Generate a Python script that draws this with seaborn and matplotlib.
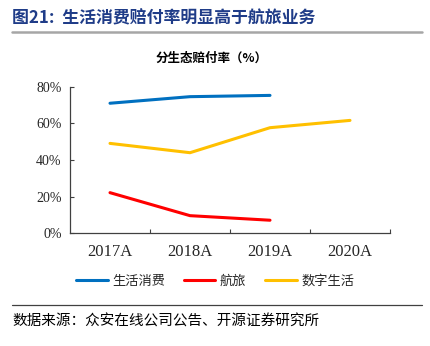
import matplotlib
matplotlib.use("Agg")
import matplotlib.pyplot as plt
import seaborn as sns
import pandas as pd
from matplotlib.lines import Line2D
from matplotlib.ticker import FuncFormatter, FixedLocator

years = ["2017A", "2018A", "2019A", "2020A"]
series_names = ["生活消费", "航旅", "数字生活"]
life = [71.1, 74.7, 75.4, None]
travel = [22.1, 9.5, 7.0, None]
digital = [49.1, 44.0, 57.7, 61.7]
colors = ["#0070C0", "#FF0000", "#FFC000"]
yticks = [0, 20, 40, 60, 80]

sns.set_theme(style="white")
plt.rcParams['font.family'] = ['Noto Sans CJK SC', 'DejaVu Sans']

rows = []
for name, vals in zip(series_names, [life, travel, digital]):
    for y, v in zip(years, vals):
        if v is not None:
            rows.append({"year": y, "series": name, "value": v})
df = pd.DataFrame(rows)
df["x"] = df["year"].map({y: i for i, y in enumerate(years)})

fig = plt.figure(figsize=(4.31, 3.46), dpi=100)
ax = fig.add_axes([70/431, 1-233/346, 320/431, 146/346])

sns.lineplot(data=df, x="x", y="value", hue="series", hue_order=series_names,
             palette=colors, linewidth=2.2, ax=ax, legend=False)

ax.set_xlim(-0.5, 3.5)
ax.set_ylim(0, 80)
ax.set_xlabel("")
ax.set_ylabel("")
ax.set_yticks(yticks)
ax.yaxis.set_major_formatter(FuncFormatter(lambda v, p: f"{int(v)}%"))
ax.set_xticks(range(len(years)))
ax.set_xticklabels(years)
ax.xaxis.set_minor_locator(FixedLocator([0.5, 1.5, 2.5, 3.5]))
for lab in ax.get_yticklabels():
    lab.set_fontfamily("Liberation Serif")
    lab.set_fontsize(10)
for lab in ax.get_xticklabels():
    lab.set_fontfamily("Liberation Serif")
    lab.set_fontsize(12)
ax.tick_params(axis="y", which="major", direction="in", length=3, width=0.8, color="#404040", pad=6, left=True)
ax.tick_params(axis="x", which="major", length=0, pad=8, bottom=True)
ax.tick_params(axis="x", which="minor", direction="in", length=3, width=0.8, color="#404040", bottom=True)
for s in ["top", "right"]:
    ax.spines[s].set_visible(False)
for s in ["left", "bottom"]:
    ax.spines[s].set_color("#404040")
    ax.spines[s].set_linewidth(0.9)
ax.grid(False)

# Title
fig.text(12/431, 1-18/346, "图21:  生活消费赔付率明显高于航旅业务", fontsize=12.2, fontweight="bold",
         color="#1F3C88", va="center", ha="left")
fig.add_artist(Line2D([12/431, 422/431], [1-32/346, 1-32/346], color="#A6A6A6", linewidth=1.8))

# Subtitle
fig.text(212/431, 1-58/346, "分生态赔付率（%）", fontsize=9, fontweight="bold",
         color="black", va="center", ha="center")

# Legend
handles = [Line2D([0], [0], color=c, linewidth=2.2) for c in colors]
fig.legend(handles, series_names, loc="center", bbox_to_anchor=(215/431, 1-281/346), ncol=3,
           frameon=False, fontsize=9.5, handlelength=2.4, columnspacing=1.4, handletextpad=0.35)

# Source
fig.add_artist(Line2D([12/431, 422/431], [1-305/346, 1-305/346], color="#404040", linewidth=0.9))
fig.text(12/431, 1-322/346, "数据来源：众安在线公司公告、开源证券研究所", fontsize=10.5,
         color="black", va="center", ha="left")

fig.savefig("out.png", dpi=100)
